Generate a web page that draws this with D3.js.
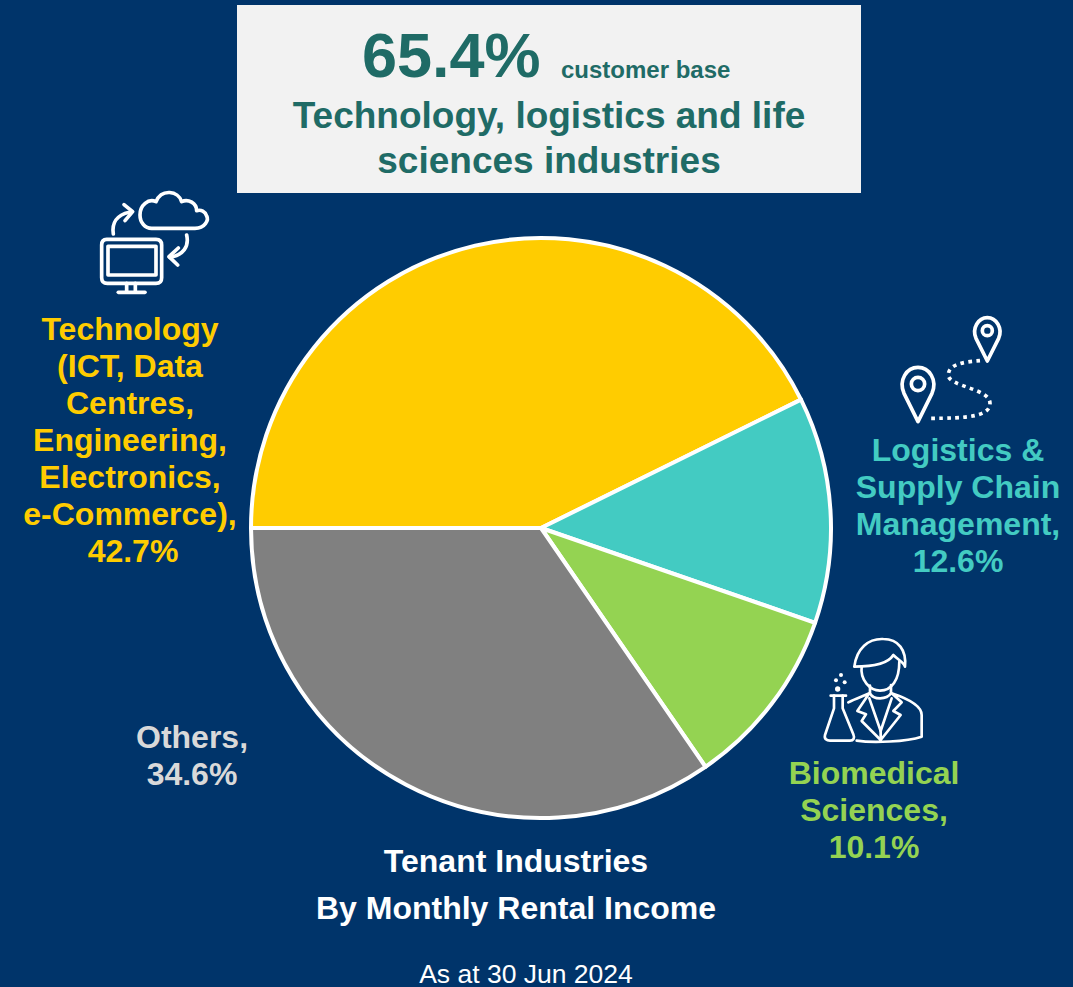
<!DOCTYPE html>
<html><head><meta charset="utf-8">
<script src="https://cdn.jsdelivr.net/npm/d3@7"></script>
<style>html,body{margin:0;padding:0;background:#00346A;overflow:hidden}svg{display:block}text{font-family:"Liberation Sans",Arial,sans-serif;font-weight:700}</style>
</head><body><svg id="c" width="1073" height="987"></svg>
<script>
const categories = ["Technology","Logistics & Supply Chain Management","Biomedical Sciences","Others"];
const shares = [42.7,12.6,10.1,34.6];
const sliceColors = ["#FFCC00","#43CBC2","#94D352","#808080"];
const labelLines = [
 ["Technology","(ICT, Data","Centres,","Engineering,","Electronics,","e-Commerce),","42.7%"],
 ["Logistics &","Supply Chain","Management,","12.6%"],
 ["Biomedical","Sciences,","10.1%"],
 ["Others,","34.6%"]];
const labelColors = ["#FFCC00","#43CBC2","#94D352","#D9D9D9"];
const labelPos = [[130,340,37],[958,461,37],[874,784,37],[192,748,37]];

const svg = d3.select("#c");
svg.append("rect").attr("width",1073).attr("height",987).attr("fill","#00346A");

const pie = d3.pie().sort(null).startAngle(-Math.PI/2).endAngle(1.5*Math.PI);
const arc = d3.arc().innerRadius(0).outerRadius(290);
svg.append("g").attr("transform","translate(541,528)")
 .selectAll("path").data(pie(shares)).join("path")
 .attr("d",arc).attr("fill",(d,i)=>sliceColors[i])
 .attr("stroke","#fff").attr("stroke-width",4).attr("stroke-linejoin","round");

// headline box
svg.append("rect").attr("x",237).attr("y",5).attr("width",624).attr("height",188).attr("fill","#F2F2F2");
const teal="#1F6B66";
svg.append("text").attr("x",362).attr("y",77).attr("font-size",63).attr("fill",teal).text("65.4%");
svg.append("text").attr("x",561).attr("y",78).attr("font-size",24).attr("fill",teal).text("customer base");
svg.append("text").attr("x",549).attr("y",128).attr("text-anchor","middle").attr("font-size",37).attr("fill",teal).text("Technology, logistics and life");
svg.append("text").attr("x",549).attr("y",173).attr("text-anchor","middle").attr("font-size",37).attr("fill",teal).text("sciences industries");

// labels
labelLines.forEach((lines,i)=>{
 const t=svg.append("text").attr("text-anchor","middle").attr("font-size",32).attr("fill",labelColors[i]);
 lines.forEach((l,j)=>t.append("tspan").attr("x",labelPos[i][0]+(i===0&&j===6?3:0)).attr("y",labelPos[i][1]+j*labelPos[i][2]).text(l));
});

// caption
svg.append("text").attr("x",516).attr("y",872).attr("text-anchor","middle").attr("font-size",32).attr("fill","#fff").text("Tenant Industries");
svg.append("text").attr("x",516).attr("y",919).attr("text-anchor","middle").attr("font-size",32).attr("fill","#fff").text("By Monthly Rental Income");
svg.append("text").attr("x",526).attr("y",983).attr("text-anchor","middle").attr("font-size",26.5).attr("fill","#fff").style("font-weight",400).text("As at 30 Jun 2024");

// icons
function icon(x,y){return svg.append("g").attr("transform",`translate(${x},${y}) scale(0.3333)`).attr("fill","none").attr("stroke","#fff").attr("stroke-width",11).attr("stroke-linejoin","round").attr("stroke-linecap","round");}
const a=icon(80,170);
["M215 175H345C375 175 387 150 380 138C376 124 363 118 350 122C350 100 325 85 305 95C295 62 245 55 228 95C205 85 180 105 180 135C180 158 195 175 215 175Z",
 "M100 192C95 160 110 135 148 127","M132 104L158 125L135 152",
 "M320 195C328 230 310 255 270 262","M295 234L267 260L293 285",
 "M80 208H228Q245 208 245 225V323Q245 340 228 340H82Q65 340 65 323V225Q65 208 80 208Z",
 "M84 229H228V315H84Z","M140 340V366","M166 340V366","M115 367H195"].forEach(d=>a.append("path").attr("d",d));
const b=icon(880,300);
["M322 183L288 115C275 85 295 53 322 53C349 53 369 85 356 115Z","M114 365L72 280C55 240 80 202 114 202C148 202 173 240 156 280Z"].forEach(d=>b.append("path").attr("d",d));
b.append("circle").attr("cx",322).attr("cy",92).attr("r",15);
b.append("circle").attr("cx",114).attr("cy",252).attr("r",20);
b.append("path").attr("d","M300 182C260 185 205 190 205 225C205 260 330 265 330 310C330 350 260 355 150 355").attr("stroke-dasharray","11 13").attr("stroke-linecap","butt");
const c=icon(810,625).attr("stroke-width",8);
["M133 125C140 70 175 40 220 42C265 42 290 75 285 125C280 110 265 105 250 90C235 115 190 125 133 125Z",
 "M155 125C150 165 180 197 210 197C245 197 268 165 268 110",
 "M180 182V205C190 225 230 225 243 205V180",
 "M115 232C135 222 155 215 178 205L142 258L168 268L155 288L212 345L272 270L250 258L275 232L245 205C290 220 335 240 335 270V335C290 350 190 355 140 347",
 "M178 220L212 318L245 220","M212 318V345",
 "M62 212H108","M72 212V250L45 330C42 342 50 347 60 347H120C130 347 135 340 130 328L98 250V212"].forEach(d=>c.append("path").attr("d",d));
[[83,192,8],[78,166,6],[93,150,6],[104,172,6]].forEach(p=>c.append("circle").attr("cx",p[0]).attr("cy",p[1]).attr("r",p[2]).attr("fill","#fff").attr("stroke","none"));
</script></body></html>
